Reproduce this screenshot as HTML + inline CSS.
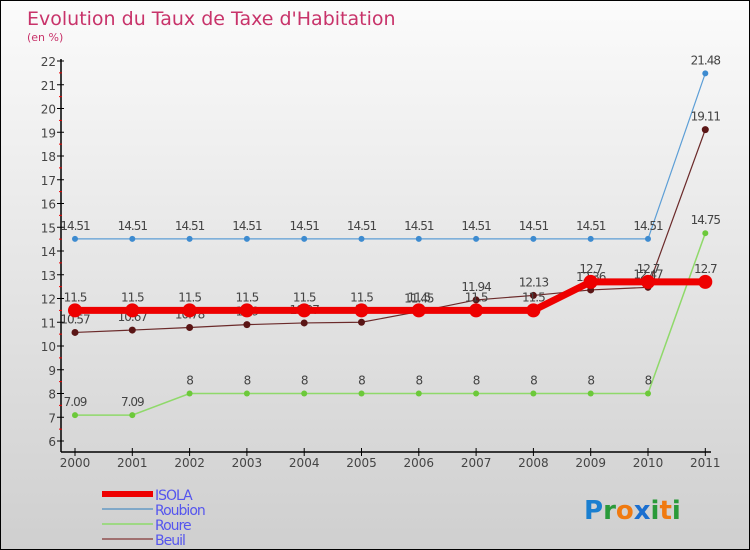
<!DOCTYPE html>
<html><head><meta charset="utf-8"><style>
body{margin:0}
#c{position:relative;width:748px;height:548px;border:1px solid #000;background:linear-gradient(#fbfbfb,#cfcfcf);font-family:"DejaVu Sans","Liberation Sans",sans-serif;overflow:hidden}
</style></head><body>
<div id="c">
<svg id="s" width="748" height="548"></svg>
</div>
<script>
const years=["2000","2001","2002","2003","2004","2005","2006","2007","2008","2009","2010","2011"];
const isola=[11.5,11.5,11.5,11.5,11.5,11.5,11.5,11.5,11.5,12.7,12.7,12.7];
const roubion=[14.51,14.51,14.51,14.51,14.51,14.51,14.51,14.51,14.51,14.51,14.51,21.48];
const roure=[7.09,7.09,8,8,8,8,8,8,8,8,8,14.75];
const beuil=[10.57,10.67,10.78,10.9,10.97,11,11.45,11.94,12.13,12.36,12.47,19.11];
const yTicks=[6,7,8,9,10,11,12,13,14,15,16,17,18,19,20,21,22];
const NS="http://www.w3.org/2000/svg",s=document.getElementById('s');
const X=i=>74+i*57.3, Y=v=>440-(v-6)*23.75;
function el(t,a,p){const e=document.createElementNS(NS,t);for(const k in a)e.setAttribute(k,a[k]);(p||s).appendChild(e);return e;}
let t=el('text',{x:26,y:24,fill:'#c8336a','font-size':19});t.textContent="Evolution du Taux de Taxe d'Habitation";

t=el('text',{x:26,y:40,fill:'#c8336a','font-size':11});t.textContent="(en %)";

let a=el('line',{x1:60,y1:58,x2:60,y2:451,stroke:'#000','stroke-width':1.5});

a=el('line',{x1:60,y1:451,x2:710,y2:451,stroke:'#000','stroke-width':1.5});

yTicks.forEach(v=>{el('line',{x1:56,y1:Y(v),x2:63,y2:Y(v),stroke:'#000'});
 if(v<22)el('line',{x1:58,y1:Y(v+.5),x2:61,y2:Y(v+.5),stroke:'#e00'});
 const l=el('text',{x:55,y:Y(v)+5,'text-anchor':'end','font-size':12,fill:'#444'});l.textContent=v;
 });
years.forEach((y,i)=>{el('line',{x1:X(i),y1:447,x2:X(i),y2:455,stroke:'#000'});
 const l=el('text',{x:X(i),y:466,'text-anchor':'middle','font-size':12,fill:'#444'});l.textContent=y;
 });
function series(d,c,w,r,name,dot){
 const p=el('polyline',{points:d.map((v,i)=>X(i)+','+Y(v)).join(' '),fill:'none',stroke:c,'stroke-width':w});
 
 d.forEach((v,i)=>{const q=el('circle',{cx:X(i),cy:Y(v),r:r,fill:dot||c});
  
  const l=el('text',{x:X(i),y:Y(v)-9,'text-anchor':'middle','font-size':12,fill:'#444','letter-spacing':'-1'});l.textContent=v;
  });
}
series(roubion,'#5c9ed6',1.2,3,'roubion','#3d8bd0');
series(roure,'#8fd96a',1.5,3,'roure','#6cc93a');
series(beuil,'#6b2a2a',1.2,3.5,'beuil','#5a1515');
series(isola,'#ee0000',7,7,'isola','#ee0000');
const leg=[['ISOLA','#ee0000',6],['Roubion','#80a8c8',2],['Roure','#9ed884',2],['Beuil','#a07070',2]];
leg.forEach((g,i)=>{const y=493+i*15;
 const l=el('line',{x1:101,y1:y,x2:152,y2:y,stroke:g[1],'stroke-width':g[2]});
 
 const tx=el('text',{x:154,y:y+6,'font-size':14,fill:'#5555ee','letter-spacing':'-1'});tx.textContent=g[0];
 });
const lg=el('text',{x:583,y:518,'font-size':26,'font-weight':'bold'});

[['P','#1a7fd0'],['r','#2a9a3a'],['o','#f07a10'],['x','#1a6fd0'],['i','#2a9a3a'],['t','#f07a10'],['i','#2a9a3a']].forEach(c=>{const ts=el('tspan',{fill:c[1]},lg);ts.textContent=c[0];});
</script>
</body></html>
